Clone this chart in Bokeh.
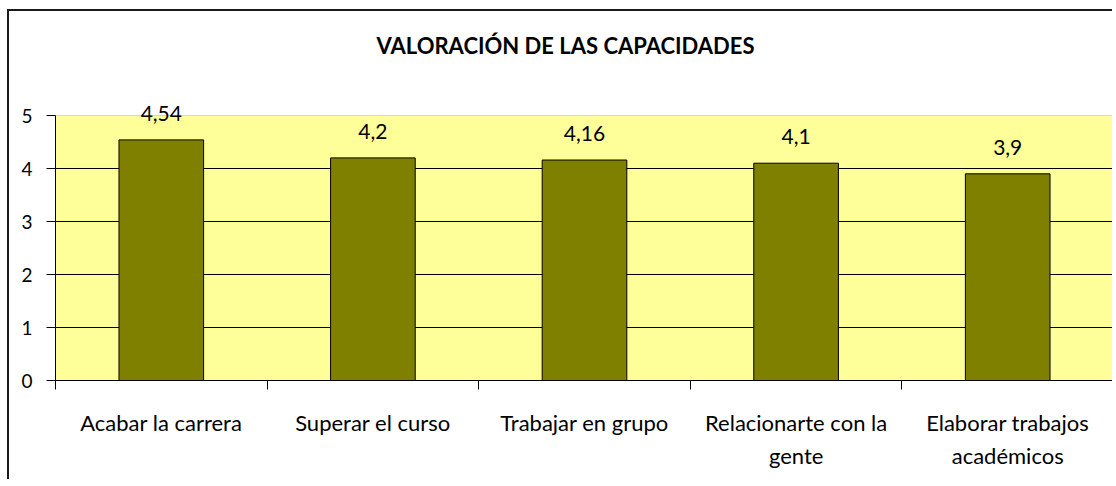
from bokeh.plotting import figure
from bokeh.models import FixedTicker, ColumnDataSource, Range1d, Label, Title, BoxAnnotation
from bokeh.embed import file_html
from bokeh.resources import INLINE

# ---- data ----
categories = ["Acabar la carrera", "Superar el curso", "Trabajar en grupo",
              "Relacionarte con la\ngente", "Elaborar trabajos\nacadémicos"]
values = [4.54, 4.2, 4.16, 4.1, 3.9]
y_ticks = [0, 1, 2, 3, 4, 5]
title_text = "VALORACIÓN DE LAS CAPACIDADES"

n = len(categories)
xs = [i + 0.5 for i in range(n)]
labels = [str(v).replace(".", ",") for v in values]
src = ColumnDataSource(dict(x=xs, y=values, label=labels))

FONT = "Lato"
y_max = y_ticks[-1]
plot_px = 265          # pixel height of the 0..5 plot area
frame_px = 280         # frame height incl. headroom for the value labels
y_end = y_max * frame_px / plot_px

p = figure(width=1105, height=470, x_range=Range1d(0, n), y_range=Range1d(0, y_end),
           output_backend="svg", toolbar_location=None, title_location=None,
           min_border_left=46, min_border_right=1, min_border_top=89, min_border_bottom=101)
p.styles = {"border-left": "2px solid #1a1a1a", "border-top": "2px solid #1a1a1a",
            "margin-left": "7px", "margin-top": "9px"}

# spacer, then the visible title above it
p.add_layout(Title(text=" ", text_font_size="1px", standoff=39), "above")
p.add_layout(Title(text=title_text, align="left", offset=321, text_font=FONT,
                   text_font_style="bold", text_font_size="22px", text_color="black",
                   standoff=0), "above")

p.background_fill_color = "white"
p.border_fill_color = "white"
p.outline_line_color = None

# plot area (yellow) with grey border
p.add_layout(BoxAnnotation(left=0, right=n, bottom=0, top=y_max, fill_color="#FFFF99",
                           fill_alpha=1, line_color="#808080", line_width=1, level="image"))

p.vbar(x="x", top="y", width=0.4, source=src, fill_color="#808000",
       line_color="black", line_width=1)

for x, y, t in zip(xs, values, labels):
    p.add_layout(Label(x=x, y=y, text=t, text_align="center",
                       text_baseline="bottom", y_offset=19, text_font=FONT,
                       text_font_size="21px", text_color="black"))

# y axis
p.yaxis.ticker = FixedTicker(ticks=y_ticks)
p.yaxis.bounds = (0, y_max)
p.yaxis.axis_line_color = "black"
p.yaxis.major_tick_out = 9
p.yaxis.major_tick_in = 0
p.yaxis.minor_tick_line_color = None
p.yaxis.major_label_standoff = 14
p.yaxis.major_label_text_font = FONT
p.yaxis.major_label_text_font_size = "19px"
p.yaxis.major_label_text_color = "black"

# x axis
p.xaxis.ticker = FixedTicker(ticks=xs, minor_ticks=list(range(n + 1)))
p.xaxis.major_label_overrides = {x: c for x, c in zip(xs, categories)}
p.xaxis.axis_line_color = "black"
p.xaxis.major_tick_out = 0
p.xaxis.major_tick_in = 0
p.xaxis.minor_tick_out = 9
p.xaxis.minor_tick_in = 0
p.xaxis.minor_tick_line_color = "black"
p.xaxis.major_label_standoff = 19
p.xaxis.major_label_text_font = FONT
p.xaxis.major_label_text_font_size = "22px"
p.xaxis.major_label_text_line_height = 1.25
p.xaxis.major_label_text_color = "black"

p.xgrid.visible = False
p.ygrid.ticker = FixedTicker(ticks=y_ticks[1:-1])
p.ygrid.grid_line_color = "black"
p.ygrid.grid_line_width = 1

open("out.html", "w").write(file_html(p, INLINE))
